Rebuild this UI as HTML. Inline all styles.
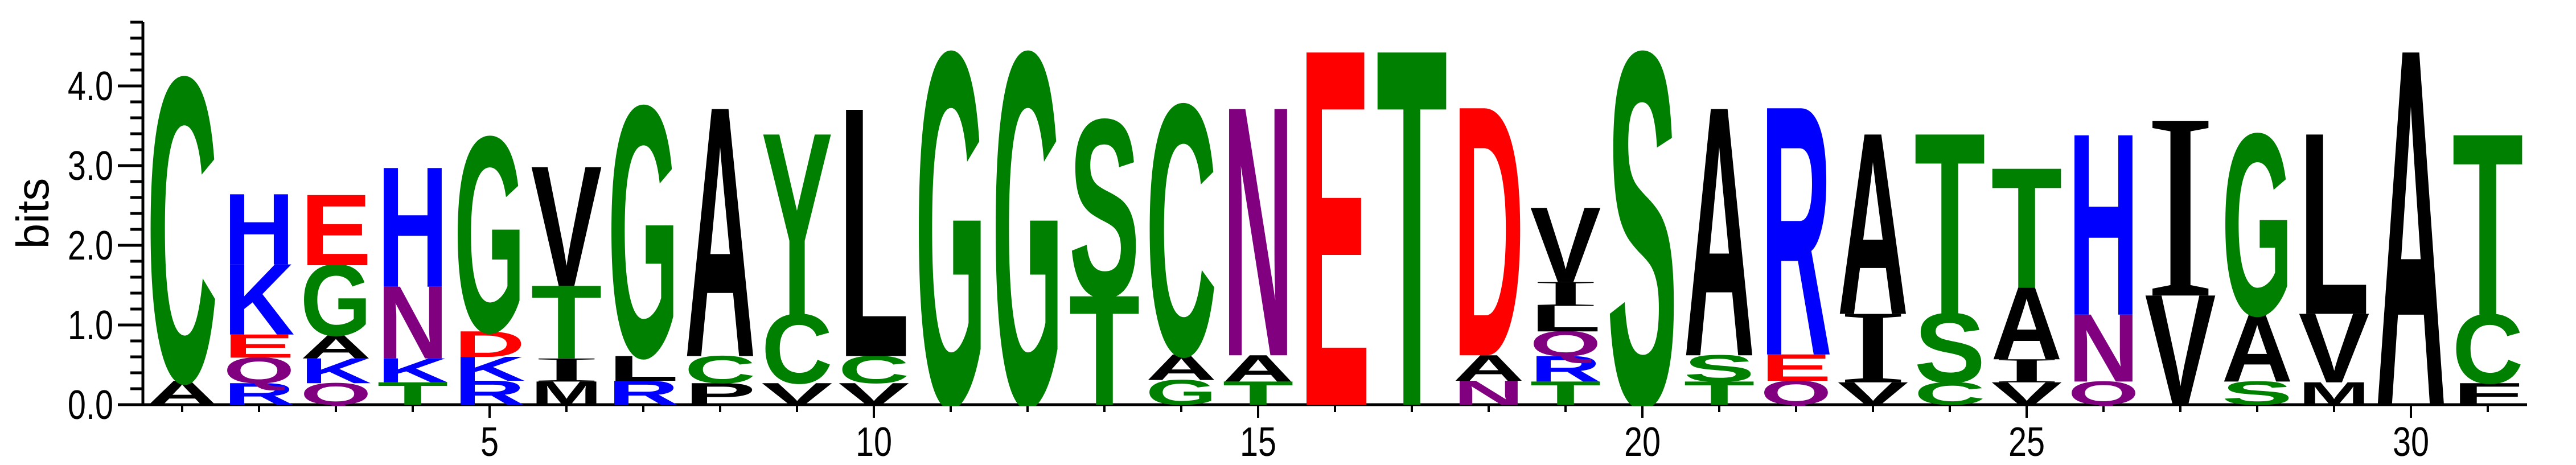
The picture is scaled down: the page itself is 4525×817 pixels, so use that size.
<!DOCTYPE html>
<html><head><meta charset="utf-8"><style>
html,body{margin:0;padding:0;background:#fff;overflow:hidden;width:4525px;height:817px;}
svg{display:block;overflow:hidden;}
</style></head><body>
<svg id="logo" width="4525" height="817" viewBox="0 0 4525 817" xmlns="http://www.w3.org/2000/svg">
<defs><clipPath id="plotclip"><rect x="200" y="0" width="4300" height="713"/></clipPath></defs>
<g id="axes"></g>
<g id="letters" clip-path="url(#plotclip)"></g>
</svg>
<script>
// Data: letters per position (bottom to top) and their heights in bits
const positions = [1,2,3,4,5,6,7,8,9,10,11,12,13,14,15,16,17,18,19,20,21,22,23,24,25,26,27,28,29,30,31];
const stackLetters = [
 ["A","C"],["R","Q","E","K","H"],["Q","K","A","G","E"],["T","K","N","H"],["R","K","D","G"],
 ["M","I","T","V"],["R","L","G"],["P","C","A"],["V","C","Y"],["V","C","L"],
 ["G"],["G"],["T","S"],["G","A","C"],["T","A","N"],
 ["E"],["T"],["N","A","D"],["T","R","Q","L","I","V"],["S"],
 ["T","S","A"],["Q","E","R"],["V","I","A"],["C","S","T"],["V","I","A","T"],
 ["Q","N","H"],["V","I"],["S","A","G"],["M","V","L"],["A"],["F","C","T"]
];
const stackHeights = [
 [0.30,3.77],[0.27,0.32,0.29,0.88,0.88],[0.27,0.31,0.29,0.88,0.88],[0.28,0.30,0.90,1.49],[0.30,0.30,0.32,2.42],
 [0.29,0.29,0.91,1.49],[0.30,0.31,3.11],[0.27,0.34,3.10],[0.27,0.86,2.26],[0.27,0.34,3.09],
 [4.38],[4.38],[1.36,2.20],[0.31,0.32,3.11],[0.29,0.33,3.09],
 [4.42],[4.42],[0.30,0.32,3.10],[0.29,0.32,0.31,0.32,0.30,0.93],[4.38],
 [0.29,0.33,3.09],[0.30,0.33,3.09],[0.28,0.86,2.25],[0.28,0.86,2.25],[0.28,0.29,0.90,1.49],
 [0.29,0.84,2.25],[1.37,2.19],[0.29,0.84,2.25],[0.28,0.86,2.25],[4.42],[0.27,0.86,2.25]
];
const yTickLabels = ["0.0","1.0","2.0","3.0","4.0"];
const yTickValues = [0,1,2,3,4];
const xTickLabelPositions = [5,10,15,20,25,30];

const NS="http://www.w3.org/2000/svg";
const x0=320, dx=135, y0=711, bitPx=140, letterW=118;
const X = p => x0 + (p-1)*dx;
const Y = v => y0 - v*bitPx;
const colors = {C:"#008000",G:"#008000",S:"#008000",T:"#008000",Y:"#008000",
 H:"#0000FF",K:"#0000FF",R:"#0000FF",D:"#FF0000",E:"#FF0000",N:"#800080",Q:"#800080"};
function mk(tag, attrs){const e=document.createElementNS(NS,tag);for(const k in attrs)e.setAttribute(k,attrs[k]);return e;}

const axes=document.getElementById('axes');
let l=mk('line',{x1:251,y1:Y(4.8),x2:251,y2:y0+2,stroke:'#000','stroke-width':5});


axes.appendChild(l);
for(let i=0;i<=24;i++){
  const v=i*0.2, major=(i%5===0);
  const t=mk('line',{x1:major?207:229,y1:Y(v),x2:251,y2:Y(v),stroke:'#000','stroke-width':5});
  
  
  axes.appendChild(t);
}
yTickValues.forEach((v,i)=>{
  const t=mk('text',{x:0,y:0,'font-family':'Liberation Sans, sans-serif','font-size':72,'text-anchor':'end',
    transform:`translate(199,${Y(v)+25}) scale(0.8,1)`});
  t.textContent=yTickLabels[i];
  
  
  axes.appendChild(t);
});
const yt=mk('text',{x:0,y:0,'font-family':'Liberation Sans, sans-serif','font-size':80,'text-anchor':'middle',
  transform:'translate(85,375) rotate(-90)'});
yt.textContent='bits';


axes.appendChild(yt);
l=mk('line',{x1:207,y1:y0,x2:4439,y2:y0,stroke:'#000','stroke-width':5});


axes.appendChild(l);
positions.forEach(p=>{
  const major=xTickLabelPositions.includes(p);
  const t=mk('line',{x1:X(p),y1:y0,x2:X(p),y2:y0+(major?23:13),stroke:'#000','stroke-width':4});
  
  
  axes.appendChild(t);
});
xTickLabelPositions.forEach(p=>{
  const t=mk('text',{x:0,y:0,'font-family':'Liberation Sans, sans-serif','font-size':72,'text-anchor':'middle',
    transform:`translate(${X(p)},801) scale(0.8,1)`});
  t.textContent=String(p);
  
  
  axes.appendChild(t);
});
const lg=document.getElementById('letters');
const FS=100, CAP=68.8;
positions.forEach((p,ci)=>{
  let base=0;
  const col=mk('g',{});
  
  
  stackLetters[ci].forEach((ch,li)=>{
    const h=stackHeights[ci][li];
    const yb=Y(base), hp=h*bitPx;
    const isI = ch==="I";
    const cap = isI?65.5:CAP;
    const sy=hp/cap;
    const t=mk('text',{x:0,y:0,'font-family':isI?'Liberation Serif, serif':'Liberation Sans, sans-serif',
      'font-weight':isI?'normal':'bold','font-size':FS,fill:colors[ch]||'#000',
      textLength:(letterW*1.06).toFixed(1),lengthAdjust:'spacingAndGlyphs','text-anchor':'middle',
      transform:`translate(${X(p)},${yb}) scale(1,${sy.toFixed(4)})`});
    t.textContent=ch;
    
    
    col.appendChild(t);
    base+=h;
  });
  lg.appendChild(col);
});
</script>
</body></html>
